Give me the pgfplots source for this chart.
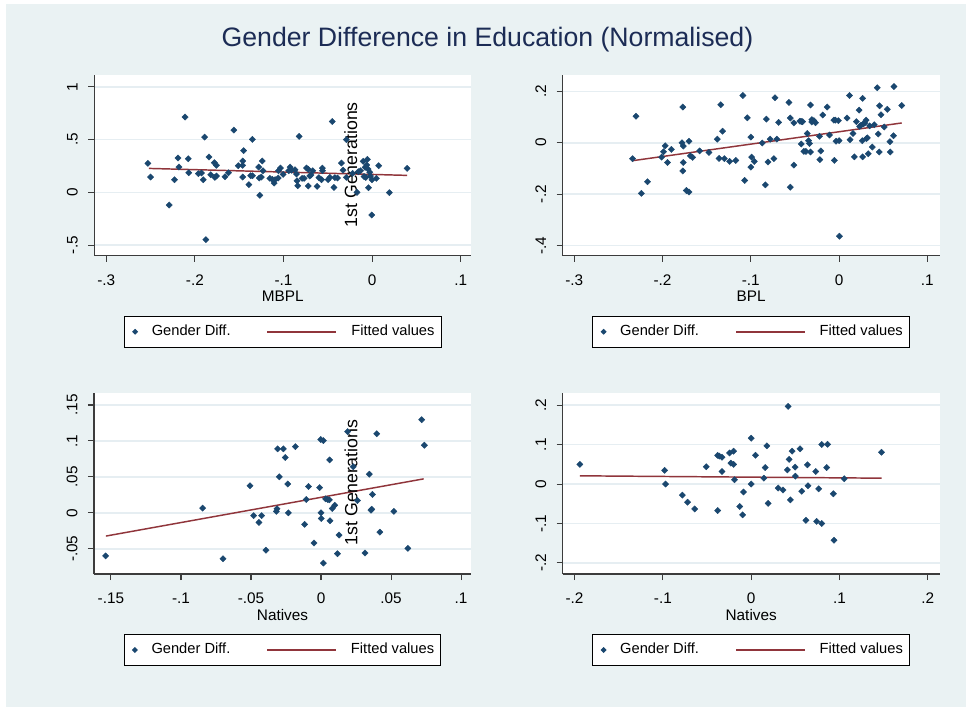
\documentclass[border=0pt]{standalone}
\usepackage{pgfplots}
\pgfplotsset{compat=1.18}
\usepackage{fontspec}
\setmainfont{Liberation Sans}
\definecolor{bgc}{RGB}{234,242,243}
\definecolor{gridc}{RGB}{230,238,242}
\definecolor{stnavy}{RGB}{26,71,111}
\definecolor{stmaroon}{RGB}{144,53,59}
\definecolor{titlec}{RGB}{28,44,85}
\definecolor{axc}{RGB}{60,60,60}

\pgfplotsset{
  panel/.style={
    scale only axis, width=282.75pt, height=135.75pt,
    axis background/.style={fill=white},
    axis lines*=left,
    x axis line style={-}, y axis line style={-},
    axis line style={axc, line width=0.8pt},
    tick align=outside,
    major tick length=4.5pt,
    tick style={axc, line width=0.8pt},
    ymajorgrids,
    major grid style={gridc, line width=1.2pt},
    enlargelimits=false,
    ticklabel style={font=\fontsize{11.5}{13}\selectfont},
    xticklabel style={anchor=base, inner sep=0pt, yshift=-17.5pt},
    yticklabel style={rotate=90, anchor=base, inner sep=0pt, yshift=8pt},
    every axis x label/.style={at={(axis description cs:0.5,0)}, anchor=base, yshift=-34.5pt, font=\fontsize{11.5}{13}\selectfont},
    legend style={at={(0.5,-0.3315)}, anchor=north, legend columns=2,
      draw=black, line width=0.75pt, fill=white,
      font=\fontsize{11}{13}\selectfont, inner xsep=5pt, inner ysep=6.5pt,
      nodes={inner sep=0pt, text height=8pt, text depth=2.3pt},
      /tikz/every odd column/.append style={column sep=0pt},
      /tikz/every even column/.append style={column sep=27.5pt}},
    legend cell align=left,
  },
  scat/.style={only marks, mark=square*, mark size=1.65pt,
    mark options={draw=stnavy, fill=stnavy, line width=0.3pt, rotate=45},
    legend image code/.code={\path[draw=none] (-3pt,0pt) -- (12.5pt,0pt); \fill[stnavy] (0pt,1.7pt) -- (1.7pt,0pt) -- (0pt,-1.7pt) -- (-1.7pt,0pt) -- cycle;}},
  fit/.style={no marks, stmaroon, line width=1.1pt,
    legend image code/.code={\fill[stmaroon, draw=none] (0pt,-0.6pt) rectangle (51.75pt,0.6pt); \path[draw=none] (0pt,0pt) -- (63pt,0pt);}},
}

\begin{document}
\begin{tikzpicture}
\fill[white] (0pt,0pt) rectangle (724.5pt,530.25pt);
\fill[bgc] (4.5pt,0pt) rectangle (724.5pt,527.25pt);
\node[font=\fontsize{20}{24}\selectfont, text=titlec] at (365.6pt,500.3pt) {Gender Difference in Education (Normalised)};

% Panel 1: MBPL
\begin{axis}[panel, at={(70.725pt,338.475pt)}, anchor=south west,
  xmin=-0.3135, xmax=0.112, ymin=-0.600, ymax=1.115,
  xtick={-0.3,-0.2,-0.1,0,0.1}, xticklabels={-.3,-.2,-.1,0,.1},
  ytick={-0.5,0,0.5,1}, yticklabels={-.5,0,.5,1},
  xlabel={MBPL}]
\addplot[scat] table {
-0.253 0.275
-0.250 0.145
-0.211 0.714
-0.229 -0.120
-0.223 0.120
-0.219 0.325
-0.218 0.240
-0.2075 0.319
-0.207 0.186
-0.189 0.524
-0.1876 -0.448
-0.1906 0.120
-0.196 0.177
-0.1925 0.183
-0.184 0.335
-0.182 0.167
-0.178 0.281
-0.1756 0.256
-0.1774 0.142
-0.1756 0.155
-0.166 0.148
-0.162 0.186
-0.156 0.590
-0.151 0.253
-0.146 0.256
-0.146 0.297
-0.145 0.395
-0.146 0.145
-0.139 0.073
-0.137 0.158
-0.135 0.158
-0.135 0.502
-0.128 0.240
-0.1267 -0.028
-0.1274 0.136
-0.124 0.297
-0.123 0.205
-0.125 0.145
-0.1154 0.133
-0.1124 0.123
-0.1105 0.088
-0.1094 0.120
-0.106 0.136
-0.1056 0.205
-0.1034 0.230
-0.1004 0.170
-0.094 0.205
-0.0925 0.240
-0.091 0.210
-0.087 0.215
-0.0853 0.174
-0.0846 0.110
-0.0838 0.063
-0.0823 0.530
-0.079 0.133
-0.0767 0.133
-0.074 0.230
-0.072 0.218
-0.072 0.060
-0.0703 0.155
-0.069 0.164
-0.067 0.205
-0.062 0.057
-0.060 0.139
-0.056 0.230
-0.056 0.205
-0.057 0.120
-0.0496 0.120
-0.0477 0.142
-0.045 0.672
-0.043 0.047
-0.042 0.139
-0.039 0.136
-0.0346 0.278
-0.0327 0.210
-0.029 0.500
-0.029 0.142
-0.022 0.180
-0.017 0.000
-0.0154 0.196
-0.013 0.205
-0.010 0.294
-0.009 0.150
-0.0079 0.237
-0.0071 0.142
-0.006 0.260
-0.0053 0.313
-0.0045 0.221
-0.0041 0.044
-0.0026 0.190
-0.0019 0.155
-0.0004 -0.215
0.000 0.120
0.0049 0.133
0.0075 0.253
0.0195 -0.003
0.0395 0.227
};
\addlegendentry{Gender Diff.}
\addplot[fit] coordinates {(-0.252,0.227) (0.0395,0.161)};
\addlegendentry{Fitted values}
\node[rotate=90, font=\fontsize{13.3}{15}\selectfont] at (axis cs:-0.024,0.262) {1st Generations};
\end{axis}

% Panel 2: BPL
\begin{axis}[panel, at={(422.025pt,338.475pt)}, anchor=south west,
  xmin=-0.3131, xmax=0.114, ymin=-0.440, ymax=0.265,
  xtick={-0.3,-0.2,-0.1,0,0.1}, xticklabels={-.3,-.2,-.1,0,.1},
  ytick={-0.4,-0.2,0,0.2}, yticklabels={-.4,-.2,0,.2},
  xlabel={BPL}]
\addplot[scat] table {
-0.234 -0.062
-0.230 0.103
-0.224 -0.197
-0.217 -0.152
-0.201 -0.056
-0.199 -0.035
-0.197 -0.012
-0.1945 -0.077
-0.190 -0.026
-0.178 0.000
-0.177 0.139
-0.1765 -0.013
-0.1765 -0.077
-0.177 -0.110
-0.173 -0.186
-0.170 -0.192
-0.170 0.006
-0.1685 -0.051
-0.166 -0.057
-0.158 -0.032
-0.1475 -0.038
-0.138 0.014
-0.136 -0.061
-0.134 0.148
-0.132 0.045
-0.130 -0.062
-0.124 -0.073
-0.117 -0.069
-0.109 0.184
-0.107 -0.147
-0.104 0.097
-0.100 0.022
-0.099 -0.056
-0.100 -0.095
-0.096 -0.073
-0.087 -0.001
-0.0835 -0.164
-0.0824 0.092
-0.0805 -0.075
-0.078 0.014
-0.0738 -0.062
-0.0726 0.175
-0.0704 0.014
-0.0685 0.079
-0.0568 0.157
-0.0553 0.096
-0.0553 -0.173
-0.0512 0.077
-0.0512 -0.087
-0.0444 0.084
-0.0429 0.083
-0.0414 0.082
-0.0429 -0.005
-0.0399 -0.034
-0.0376 -0.034
-0.0361 0.036
-0.0346 0.008
-0.0335 -0.003
-0.0324 0.147
-0.0324 -0.036
-0.0309 0.090
-0.0309 0.081
-0.0286 0.086
-0.0267 0.078
-0.0222 0.025
-0.0218 -0.066
-0.0207 -0.032
-0.0184 0.108
-0.0135 0.139
-0.0109 0.030
-0.006 0.088
-0.0053 -0.069
-0.0041 0.088
-0.0034 0.006
-0.0008 0.086
0.000 0.008
0.0004 -0.364
0.009 0.096
0.0117 0.184
0.0124 0.012
0.0158 0.036
0.0173 -0.055
0.0196 0.082
0.0226 0.127
0.0233 0.064
0.0248 0.068
0.0263 0.008
0.0267 -0.055
0.0267 0.173
0.0275 0.073
0.029 0.077
0.0305 0.088
0.0309 0.016
0.032 0.019
0.0331 -0.043
0.0346 0.066
0.0376 -0.017
0.0399 0.070
0.0433 0.214
0.0444 0.034
0.0455 -0.036
0.0459 0.144
0.0474 0.109
0.0512 0.061
0.0546 0.130
0.0576 0.004
0.058 -0.036
0.0617 0.027
0.0621 0.219
0.0711 0.145
};
\addlegendentry{Gender Diff.}
\addplot[fit] coordinates {(-0.234,-0.070) (0.071,0.077)};
\addlegendentry{Fitted values}
\end{axis}

% Panel 3: Natives (1st Generations)
\begin{axis}[panel, at={(70.5pt,99.75pt)}, anchor=south west,
  xmin=-0.1621, xmax=0.1071, ymin=-0.0852, ymax=0.1667,
  xtick={-0.15,-0.1,-0.05,0,0.05,0.1}, xticklabels={-.15,-.1,-.05,0,.05,.1},
  ytick={-0.05,0,0.05,0.1,0.15}, yticklabels={-.05,0,.05,.1,.15},
  xlabel={Natives}]
\addplot[scat] table {
-0.1538 -0.060
-0.0845 0.0065
-0.070 -0.064
-0.0507 0.0375
-0.0481 -0.004
-0.0443 -0.0134
-0.0424 -0.004
-0.0393 -0.052
-0.0319 0.002
-0.0314 0.0056
-0.031 0.089
-0.0298 0.050
-0.0269 0.089
-0.0255 0.077
-0.0238 0.040
-0.0233 0.000
-0.0183 0.092
-0.0117 -0.016
-0.0105 0.0185
-0.009 0.0366
-0.005 -0.042
-0.001 0.035
-0.0002 0.102
0.0017 0.1005
0.000 0.000
0.0002 -0.008
0.0017 -0.070
0.0033 0.0194
0.0048 0.0185
0.006 0.018
0.0062 0.0736
0.0064 -0.011
0.008 0.006
0.0098 0.0106
0.0117 -0.057
0.0129 -0.031
0.019 0.113
0.023 0.064
0.026 0.017
0.0314 -0.056
0.0345 0.0537
0.0357 0.0037
0.0362 0.005
0.0367 0.0255
0.0398 0.110
0.042 -0.027
0.052 0.002
0.062 -0.0495
0.0719 0.1296
0.0738 0.094
};
\addlegendentry{Gender Diff.}
\addplot[fit] coordinates {(-0.1536,-0.0324) (0.0733,0.0472)};
\addlegendentry{Fitted values}
\node[rotate=90, font=\fontsize{13.3}{15}\selectfont] at (axis cs:0.0214,0.0419) {1st Generations};
\end{axis}

% Panel 4: Natives
\begin{axis}[panel, at={(422.025pt,99.75pt)}, anchor=south west,
  xmin=-0.2134, xmax=0.2134, ymin=-0.228, ymax=0.231,
  xtick={-0.2,-0.1,0,0.1,0.2}, xticklabels={-.2,-.1,0,.1,.2},
  ytick={-0.2,-0.1,0,0.1,0.2}, yticklabels={-.2,-.1,0,.1,.2},
  xlabel={Natives}]
\addplot[scat] table {
-0.194 0.050
-0.098 0.035
-0.097 0.000
-0.078 -0.028
-0.072 -0.046
-0.064 -0.063
-0.051 0.044
-0.038 0.073
-0.036 0.071
-0.033 0.068
-0.038 -0.067
-0.033 0.032
-0.0245 0.079
-0.020 0.0835
-0.023 0.053
-0.020 0.050
-0.019 0.011
-0.013 -0.057
-0.0098 -0.078
-0.0087 -0.020
0.000 0.1165
0.000 0.000
0.0049 0.073
0.0143 0.015
0.0158 0.042
0.0177 0.097
0.0192 -0.049
0.0305 -0.010
0.036 -0.015
0.041 0.036
0.0418 0.197
0.0429 0.0625
0.0444 -0.040
0.0463 0.0835
0.0497 0.043
0.050 0.020
0.0553 0.0895
0.0572 -0.018
0.062 -0.092
0.0636 0.049
0.0643 -0.004
0.073 0.032
0.0741 -0.0945
0.0764 -0.012
0.0798 0.1004
0.0798 -0.100
0.0854 0.042
0.0865 0.101
0.093 -0.0245
0.0937 -0.1426
0.1054 0.0135
0.1475 0.081
};
\addlegendentry{Gender Diff.}
\addplot[fit] coordinates {(-0.194,0.021) (0.1475,0.015)};
\addlegendentry{Fitted values}
\end{axis}
\end{tikzpicture}
\end{document}
